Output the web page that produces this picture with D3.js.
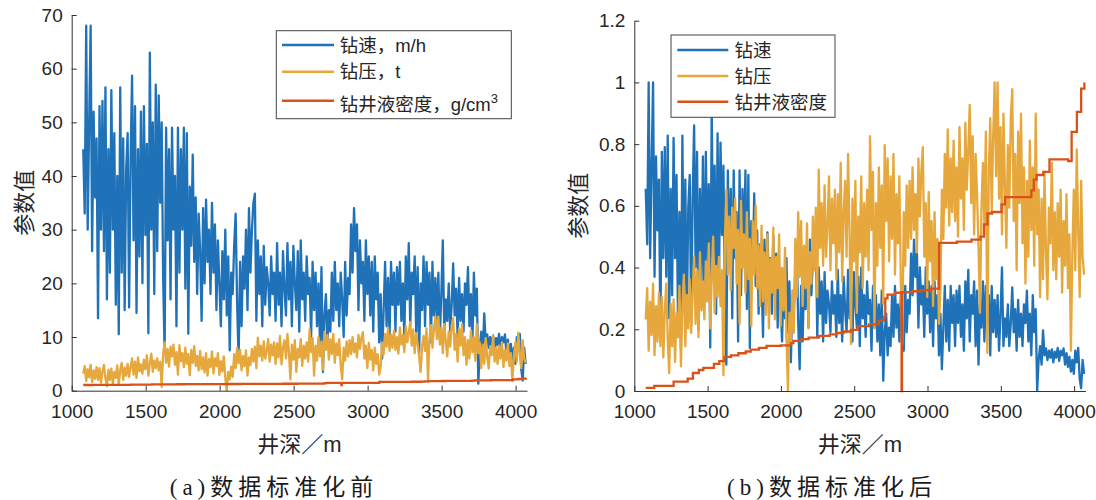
<!DOCTYPE html>
<html lang="zh">
<head>
<meta charset="utf-8">
<title>钻井参数标准化前后</title>
<script src="https://cdn.jsdelivr.net/npm/d3@7"></script>
<style>
  body { margin: 0; background: #fff; }
  svg { display: block; background: #fff; }
  .axis .tick text { font-family: "Liberation Sans", Arial, sans-serif; font-size: 19px; fill: #262626; }
  .axis path, .axis line { stroke: #333; stroke-width: 1; }
  .label { font-family: "Liberation Sans", "Noto Sans CJK SC", sans-serif; fill: #262626; }
  .caption { font-family: "Liberation Serif", "Noto Sans CJK SC", serif; font-size: 23px; letter-spacing: 5px; fill: #1a1a1a; }
</style>
</head>
<body>
<div id="chart"></div>
<script>
// Depth grid of the blue / gold series (m)
const depthStart = 1078;
const depthStep = 10;

// 钻速 (m/h), one value every 10 m
const ropValues = [
  45, 33, 68, 30, 50, 68, 26, 52, 36, 47,
  13.5, 53, 30, 54, 26, 56.5, 17, 45, 22, 56,
  30, 48, 16, 40, 10.5, 56.5, 22, 47, 15, 41,
  48, 15.5, 43, 58.7, 28, 53, 14.5, 45, 25, 52,
  20, 53, 29, 46, 10.7, 63, 30, 50, 18, 57,
  26, 55, 35, 50, 21, 7, 49, 28, 45, 17,
  49, 30, 40, 12, 49, 22, 45, 30, 49, 19,
  48, 10.6, 38, 27, 44, 24, 36, 18, 33, 26,
  13, 34, 20, 35.6, 24, 30, 18, 35, 22, 31,
  15, 28, 20, 12, 26, 17, 30, 14, 25, 7.5,
  22, 18, 27, 33, 16, 6, 24, 12, 25, 19,
  30, 15, 34, 22, 30, 35, 36.7, 13, 28, 18,
  25, 12, 27, 16, 23, 20, 14, 25, 18, 22,
  13, 27.5, 16, 22, 12, 26, 19, 14, 27.5, 17,
  24, 12, 27, 20, 15, 26, 11, 28, 17, 22,
  13, 25, 18, 21, 10, 24, 15, 22, 12, 20,
  9, 23, 3.5, 14, 18, 9, 15, 11, 22, 13,
  24, 15, 20, 12, 22, 17, 10, 24, 14, 21,
  18, 31, 22, 34, 26, 31, 15, 28, 20, 24,
  13, 28, 18, 25, 14, 24, 11, 25, 17, 22,
  9, 18, 6, 15, 24, 12, 21, 10, 24, 16,
  22, 11, 23, 16, 24, 13, 20, 10, 25, 17,
  27.5, 12, 22, 18, 25, 11, 23, 7, 20, 15,
  25, 12, 24, 16, 22, 9, 24, 14, 21, 13,
  22, 10, 18, 28, 11, 17, 13, 20, 11, 16,
  23.7, 14, 19, 10, 21, 13, 18, 11, 20, 16,
  23, 12, 18, 9, 22, 14, 19, 1.3, 8, 11,
  7, 14.4, 9, 10.5, 8, 10, 8.5, 10.3, 7.5, 9.8,
  8.5, 10.6, 7.8, 10, 9, 10.5, 7, 9.5, 6.5, 8.7,
  5.5, 8, 5, 10, 7.5, 10.6, 4, 1.9, 8, 5
];

// 钻压 (t), same depth grid
const wobValues = [
  3.2, 4.6, 1.8, 4.0, 2.5, 4.8, 1.6, 3.8, 2.2, 4.4,
  2.0, 4.2, 1.5, 3.6, 4.8, 2.3, 0.8, 3.9, 2.0, 4.1,
  1.3, 3.5, 2.4, 4.7, 1.1, 3.8, 5.2, 2.0, 4.3, 2.8,
  5.0, 2.6, 4.4, 6.0, 3.0, 5.4, 2.4, 6.2, 3.6, 4.9,
  3.2, 5.8, 4.0, 6.6, 2.8, 5.1, 6.9, 3.5, 5.6, 4.2,
  6.0, 3.8, 5.4, 0.7, 6.8, 9.0, 5.2, 7.8, 4.5, 8.2,
  6.4, 8.6, 4.8, 7.2, 3.0, 8.5, 5.5, 7.0, 4.4, 8.0,
  5.0, 6.8, 2.9, 7.6, 5.2, 8.3, 4.6, 6.5, 3.8, 7.4,
  4.0, 6.2, 3.4, 7.0, 2.8, 5.9, 4.4, 7.3, 3.2, 6.0,
  4.6, 7.0, 2.9, 5.5, 3.6, 6.4, 2.4, 0.0, 3.5, 2.1,
  4.5, 2.6, 6.8, 4.2, 8.0, 5.1, 7.6, 3.8, 6.5, 4.6,
  7.5, 2.8, 6.2, 4.8, 7.8, 5.4, 8.2, 4.2, 9.9, 6.4,
  8.4, 5.6, 9.2, 6.0, 7.4, 9.6, 5.4, 8.6, 6.6, 9.0,
  5.0, 8.8, 6.2, 10.2, 4.9, 8.0, 9.4, 6.0, 10.6, 7.2,
  2.1, 8.6, 5.8, 9.4, 3.5, 7.8, 6.2, 9.6, 4.6, 8.4,
  6.0, 9.0, 5.4, 11.4, 7.2, 9.8, 2.8, 8.4, 5.6, 10.0,
  6.4, 9.2, 3.9, 11.0, 7.6, 10.4, 5.8, 9.6, 6.8, 10.6,
  5.2, 8.8, 6.6, 9.6, 4.8, 2.1, 8.0, 5.6, 9.2, 6.4,
  9.4, 6.8, 10.0, 7.2, 8.8, 6.2, 10.4, 7.8, 9.8, 10.9,
  6.0, 8.4, 4.2, 8.9, 5.8, 7.6, 3.8, 8.0, 5.0, 6.8,
  3.0, 4.5, 9.0, 6.8, 10.6, 8.2, 11.7, 7.4, 10.4, 8.0,
  11.2, 7.6, 10.0, 6.9, 11.8, 8.6, 10.4, 7.2, 12.0, 9.0,
  10.8, 12.8, 8.4, 11.4, 7.0, 10.6, 8.8, 6.4, 3.5, 8.2,
  10.2, 7.4, 11.6, 1.7, 9.8, 12.2, 8.0, 11.4, 13.8, 9.6,
  13.8, 8.6, 11.8, 7.0, 12.4, 9.2, 6.4, 11.0, 8.2, 12.2,
  13.5, 7.6, 10.6, 5.4, 11.6, 8.4, 12.4, 6.6, 10.0, 4.8,
  9.4, 6.0, 11.2, 7.2, 10.0, 5.6, 12.4, 7.0, 9.0, 4.2,
  8.6, 5.0, 9.8, 6.2, 4.1, 8.2, 6.6, 10.2, 5.4, 8.0,
  5.0, 8.4, 6.0, 9.0, 4.4, 7.6, 5.6, 8.8, 4.6, 7.0,
  1.8, 6.2, 9.0, 5.4, 10.8, 7.2, 4.2, 9.4, 6.0, 5.2
];

// 钻井液密度 (g/cm3): depths where the stepped value changes
const densityDepths = [
  1078, 1136, 1268, 1364, 1400, 1440, 1471, 1543, 1580, 1615,
  1660, 1710, 1760, 1794, 1850, 1902, 2000, 2069, 2085, 2140,
  2189, 2260, 2333, 2380, 2428, 2480, 2524, 2600, 2667, 2703,
  2712, 2727, 2780, 2823, 2826, 2900, 2960, 3026, 3079, 3200,
  3300, 3361, 3385, 3409, 3440, 3505, 3529, 3708, 3725, 3744,
  3790, 3832, 3960, 3983, 4019, 4048, 4070
];
const densityValues = [
  1.063, 1.071, 1.088, 1.100, 1.123, 1.135, 1.144, 1.160, 1.171, 1.188,
  1.194, 1.203, 1.210, 1.218, 1.225, 1.233, 1.235, 1.244, 1.253, 1.260,
  1.266, 1.273, 1.279, 1.285, 1.291, 1.298, 1.313, 1.320, 1.335, 1.350,
  1.425, 1.440, 1.448, 1.050, 1.450, 1.454, 1.459, 1.465, 1.650, 1.655,
  1.663, 1.675, 1.725, 1.769, 1.775, 1.806, 1.835, 1.863, 1.906, 1.925,
  1.938, 1.988, 1.981, 2.100, 2.181, 2.275, 2.300
];

const seriesNames = ["钻速", "钻压", "钻井液密度"];
const seriesUnits = ["m/h", "t", "g/cm"];
const seriesColors = ["#1F72B8", "#E6A83C", "#D95319"];

const xDomain = [1000, 4077];
const xTicks = [1000, 1500, 2000, 2500, 3000, 3500, 4000];
const yTicksRaw = [0, 10, 20, 30, 40, 50, 60, 70];
const yTicksNorm = [0, 0.2, 0.4, 0.6, 0.8, 1, 1.2];

const depths = ropValues.map((_, i) => depthStart + i * depthStep);

// min-max normalisation (数据标准化)
function normalize(values) {
  const [lo, hi] = d3.extent(values);
  return values.map(v => (v - lo) / (hi - lo));
}

const panels = [
  {
    left: 71.7, right: 527, top: 15, bottom: 390.7,
    yMax: 70, yTicks: yTicksRaw, normalized: false,
    legend: { x: 276.3, y: 30.7, w: 235, h: 88, lineX: [282, 334], textX: 339.7,
              lineY: [45, 71.7, 100.7], textY: [45.5, 71.7, 104.5] },
    ylabelX: 24, caption: "(a)数据标准化前", captionX: 274
  },
  {
    left: 634.3, right: 1085.4, top: 20.7, bottom: 391,
    yMax: 1.2, yTicks: yTicksNorm, normalized: true,
    legend: { x: 671, y: 35, w: 164, h: 82.3, lineX: [677.3, 728.3], textX: 734.6,
              lineY: [50, 76, 101.7], textY: [50.5, 76.5, 102.2] },
    ylabelX: 578, caption: "(b)数据标准化后", captionX: 832
  }
];

const svg = d3.select("#chart").append("svg")
  .attr("width", 1096)
  .attr("height", 500);

function drawPanel(p) {
  const x = d3.scaleLinear().domain(xDomain).range([p.left, p.right]);
  const y = d3.scaleLinear().domain([0, p.yMax]).range([p.bottom, p.top]);

  const rop = p.normalized ? normalize(ropValues) : ropValues;
  const wob = p.normalized ? normalize(wobValues) : wobValues;
  const dens = p.normalized ? normalize(densityValues) : densityValues;

  const line = d3.line().x(d => x(d[0])).y(d => y(d[1]));
  const stepLine = d3.line().x(d => x(d[0])).y(d => y(d[1])).curve(d3.curveStepAfter);

  const g = svg.append("g");

  // Lines: blue first, gold over it, red on top
  g.append("path")
    .datum(depths.map((d, i) => [d, rop[i]]))
    .attr("fill", "none")
    .attr("stroke", seriesColors[0])
    .attr("stroke-width", 2.3)
    .attr("stroke-linejoin", "round")
    .attr("d", line);

  g.append("path")
    .datum(depths.map((d, i) => [d, wob[i]]))
    .attr("fill", "none")
    .attr("stroke", seriesColors[1])
    .attr("stroke-width", 2.3)
    .attr("stroke-linejoin", "round")
    .attr("d", line);

  g.append("path")
    .datum(densityDepths.map((d, i) => [d, dens[i]]))
    .attr("fill", "none")
    .attr("stroke", seriesColors[2])
    .attr("stroke-width", 2.3)
    .attr("d", stepLine);

  // Axes, ticks pointing inward like MATLAB
  g.append("g")
    .attr("class", "axis")
    .attr("transform", `translate(0,${p.bottom})`)
    .call(d3.axisBottom(x).tickValues(xTicks).tickFormat(d3.format("d"))
      .tickSizeInner(-5).tickSizeOuter(0).tickPadding(14));

  g.append("g")
    .attr("class", "axis")
    .attr("transform", `translate(${p.left},0)`)
    .call(d3.axisLeft(y).tickValues(p.yTicks).tickFormat(d => String(+d.toFixed(1)))
      .tickSizeInner(-5).tickSizeOuter(0).tickPadding(9));

  // Axis titles
  g.append("text")
    .attr("class", "label")
    .attr("x", (p.left + p.right) / 2)
    .attr("y", 444)
    .attr("dy", "0.36em")
    .attr("text-anchor", "middle")
    .style("font-size", "22px")
    .text("井深／m");

  g.append("text")
    .attr("class", "label")
    .attr("transform", `translate(${p.ylabelX},${(p.top + p.bottom) / 2}) rotate(-90)`)
    .attr("dy", "0.36em")
    .attr("text-anchor", "middle")
    .style("font-size", "22px")
    .text("参数值");

  // Legend
  const L = p.legend;
  const lg = g.append("g");
  lg.append("rect")
    .attr("x", L.x).attr("y", L.y)
    .attr("width", L.w).attr("height", L.h)
    .attr("fill", "#fff")
    .attr("stroke", "#444")
    .attr("stroke-width", 1);

  seriesNames.forEach((name, i) => {
    lg.append("line")
      .attr("x1", L.lineX[0]).attr("x2", L.lineX[1])
      .attr("y1", L.lineY[i]).attr("y2", L.lineY[i])
      .attr("stroke", seriesColors[i])
      .attr("stroke-width", 2.5);

    const t = lg.append("text")
      .attr("class", "label")
      .attr("x", L.textX)
      .attr("y", L.textY[i])
      .attr("dy", "0.36em")
      .style("font-size", "18.5px")
      .text(p.normalized ? name : `${name}，${seriesUnits[i]}`);

    if (!p.normalized && i === 2) {
      t.append("tspan")
        .attr("dy", "-0.6em")
        .style("font-size", "13px")
        .text("3");
    }
  });

  // Sub-figure caption
  svg.append("text")
    .attr("class", "caption")
    .attr("x", p.captionX)
    .attr("y", 487)
    .attr("dy", "0.36em")
    .attr("text-anchor", "middle")
    .text(p.caption);
}

panels.forEach(drawPanel);
</script>
</body>
</html>
